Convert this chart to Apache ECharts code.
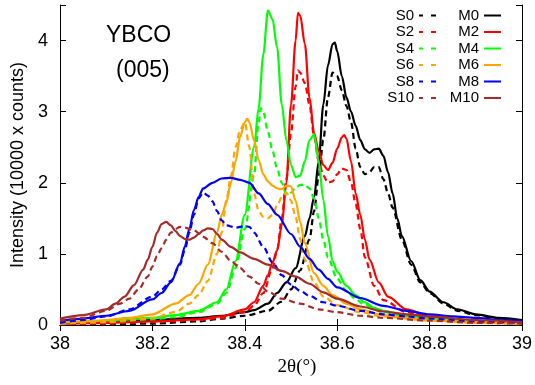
<!DOCTYPE html>
<html>
<head>
<meta charset="utf-8">
<script src="https://cdn.jsdelivr.net/npm/echarts@6/dist/echarts.min.js"></script>
<style>
  html, body { margin: 0; padding: 0; background: #fff; }
  #main { width: 535px; height: 385px; }
</style>
</head>
<body>
<div id="main"></div>
<script>
// x ticks / y ticks
const xTicks = [38, 38.2, 38.4, 38.6, 38.8, 39];
const yTicks = [0, 1, 2, 3, 4];

// [2theta, intensity]
const S0 = [[38.0,0.0],[38.1,0.01],[38.2,0.02],[38.3,0.05],[38.35,0.09],[38.4,0.13],[38.45,0.2],[38.48,0.33],[38.5,0.5],[38.52,0.77],[38.54,1.2],[38.55,1.6],[38.56,2.1],[38.57,2.6],[38.58,3.2],[38.59,3.55],[38.6,3.5],[38.61,3.3],[38.62,3.08],[38.63,2.85],[38.64,2.48],[38.65,2.22],[38.66,2.12],[38.67,2.15],[38.68,2.22],[38.69,2.22],[38.7,2.05],[38.71,1.85],[38.72,1.65],[38.74,1.2],[38.76,0.85],[38.78,0.6],[38.8,0.45],[38.83,0.3],[38.86,0.2],[38.9,0.14],[38.95,0.08],[39.0,0.05]];
const M0 = [[38.0,0.02],[38.1,0.04],[38.2,0.07],[38.3,0.1],[38.35,0.13],[38.4,0.18],[38.42,0.21],[38.45,0.3],[38.47,0.45],[38.49,0.6],[38.51,0.8],[38.53,1.25],[38.54,1.5],[38.55,1.8],[38.56,2.3],[38.57,3.1],[38.58,3.65],[38.59,3.95],[38.595,3.97],[38.6,3.85],[38.61,3.5],[38.62,3.2],[38.63,3.0],[38.64,2.8],[38.65,2.6],[38.66,2.47],[38.67,2.42],[38.68,2.47],[38.69,2.48],[38.7,2.38],[38.71,2.15],[38.72,1.85],[38.73,1.5],[38.74,1.25],[38.76,0.9],[38.78,0.63],[38.8,0.47],[38.83,0.32],[38.86,0.22],[38.9,0.15],[38.95,0.1],[39.0,0.07]];
const S2 = [[38.0,0.01],[38.1,0.02],[38.2,0.04],[38.3,0.07],[38.35,0.1],[38.4,0.18],[38.42,0.27],[38.44,0.45],[38.46,0.8],[38.47,1.05],[38.48,1.5],[38.49,2.05],[38.5,2.7],[38.51,3.35],[38.515,3.58],[38.52,3.55],[38.53,3.4],[38.54,3.1],[38.55,2.65],[38.56,2.3],[38.57,2.1],[38.58,2.0],[38.59,2.02],[38.6,2.12],[38.61,2.2],[38.62,2.18],[38.63,2.0],[38.64,1.7],[38.65,1.35],[38.66,0.95],[38.68,0.55],[38.7,0.35],[38.75,0.18],[38.8,0.1],[38.9,0.04],[39.0,0.02]];
const M2 = [[38.0,0.02],[38.1,0.03],[38.2,0.05],[38.3,0.08],[38.35,0.12],[38.4,0.22],[38.42,0.32],[38.44,0.55],[38.45,0.7],[38.46,0.88],[38.47,1.05],[38.48,1.4],[38.49,2.0],[38.5,3.1],[38.51,4.0],[38.515,4.39],[38.52,4.35],[38.53,3.95],[38.54,3.2],[38.55,2.7],[38.56,2.45],[38.57,2.25],[38.58,2.18],[38.59,2.28],[38.6,2.48],[38.61,2.64],[38.615,2.67],[38.62,2.62],[38.63,2.3],[38.64,1.85],[38.65,1.55],[38.66,1.2],[38.67,0.92],[38.69,0.6],[38.71,0.4],[38.75,0.22],[38.8,0.12],[38.9,0.05],[39.0,0.03]];
const S4 = [[38.0,0.02],[38.1,0.04],[38.2,0.08],[38.25,0.11],[38.3,0.18],[38.34,0.3],[38.36,0.45],[38.38,0.8],[38.4,1.35],[38.42,2.1],[38.43,2.85],[38.435,3.05],[38.44,3.0],[38.45,2.72],[38.46,2.45],[38.47,2.2],[38.48,2.0],[38.49,1.83],[38.5,1.86],[38.51,1.93],[38.52,1.97],[38.53,1.97],[38.54,1.92],[38.55,1.78],[38.56,1.5],[38.57,1.2],[38.58,0.95],[38.6,0.65],[38.62,0.48],[38.64,0.36],[38.66,0.28],[38.7,0.18],[38.75,0.12],[38.8,0.08],[38.9,0.04],[39.0,0.02]];
const M4 = [[38.0,0.03],[38.1,0.06],[38.2,0.1],[38.25,0.14],[38.3,0.2],[38.34,0.32],[38.36,0.5],[38.38,0.9],[38.4,1.55],[38.42,2.5],[38.43,3.05],[38.44,3.8],[38.45,4.42],[38.46,4.3],[38.47,3.9],[38.48,3.1],[38.49,2.6],[38.5,2.25],[38.51,2.08],[38.52,2.1],[38.53,2.3],[38.54,2.6],[38.55,2.68],[38.56,2.3],[38.57,1.76],[38.58,1.25],[38.59,0.9],[38.6,0.75],[38.62,0.55],[38.64,0.42],[38.66,0.32],[38.68,0.24],[38.7,0.2],[38.75,0.13],[38.8,0.09],[38.9,0.05],[39.0,0.03]];
const S6 = [[38.0,0.02],[38.1,0.04],[38.15,0.07],[38.2,0.1],[38.25,0.18],[38.28,0.3],[38.3,0.42],[38.32,0.62],[38.34,1.0],[38.35,1.3],[38.36,1.75],[38.37,2.1],[38.38,2.5],[38.39,2.75],[38.4,2.85],[38.41,2.5],[38.42,1.85],[38.43,1.6],[38.44,1.52],[38.45,1.5],[38.46,1.55],[38.47,1.68],[38.48,1.8],[38.49,1.86],[38.5,1.75],[38.51,1.52],[38.52,1.2],[38.53,0.92],[38.55,0.6],[38.57,0.4],[38.6,0.28],[38.65,0.18],[38.7,0.12],[38.8,0.06],[38.9,0.03],[39.0,0.01]];
const M6 = [[38.0,0.04],[38.05,0.05],[38.1,0.07],[38.15,0.1],[38.2,0.15],[38.25,0.3],[38.28,0.42],[38.3,0.58],[38.32,0.85],[38.34,1.3],[38.35,1.55],[38.36,1.72],[38.37,2.0],[38.38,2.3],[38.39,2.65],[38.4,2.85],[38.405,2.9],[38.41,2.85],[38.42,2.6],[38.43,2.32],[38.44,2.12],[38.45,2.02],[38.46,1.96],[38.47,1.92],[38.48,1.91],[38.49,1.96],[38.5,1.95],[38.51,1.75],[38.52,1.45],[38.53,1.15],[38.55,0.73],[38.57,0.55],[38.59,0.42],[38.62,0.3],[38.65,0.22],[38.7,0.14],[38.75,0.1],[38.8,0.07],[38.9,0.04],[39.0,0.02]];
const S8 = [[38.0,0.03],[38.05,0.07],[38.1,0.12],[38.15,0.22],[38.2,0.4],[38.22,0.5],[38.24,0.62],[38.26,0.85],[38.27,1.05],[38.28,1.3],[38.29,1.55],[38.3,1.78],[38.31,1.86],[38.32,1.82],[38.33,1.74],[38.34,1.6],[38.35,1.47],[38.36,1.4],[38.38,1.37],[38.4,1.39],[38.41,1.38],[38.42,1.3],[38.44,1.1],[38.46,0.88],[38.48,0.7],[38.5,0.57],[38.52,0.48],[38.54,0.41],[38.57,0.32],[38.6,0.27],[38.65,0.2],[38.7,0.15],[38.75,0.12],[38.8,0.09],[38.9,0.05],[39.0,0.03]];
const M8 = [[38.0,0.06],[38.05,0.09],[38.1,0.13],[38.15,0.2],[38.2,0.36],[38.22,0.45],[38.24,0.6],[38.26,0.87],[38.27,1.1],[38.28,1.35],[38.29,1.62],[38.3,1.8],[38.31,1.92],[38.33,2.0],[38.35,2.06],[38.37,2.07],[38.39,2.04],[38.41,2.0],[38.43,1.85],[38.45,1.7],[38.47,1.55],[38.5,1.28],[38.52,1.1],[38.54,0.93],[38.56,0.78],[38.58,0.65],[38.6,0.53],[38.65,0.38],[38.7,0.27],[38.75,0.2],[38.8,0.15],[38.85,0.12],[38.9,0.1],[38.95,0.07],[39.0,0.06]];
const S10 = [[38.0,0.06],[38.05,0.1],[38.1,0.2],[38.13,0.3],[38.15,0.37],[38.17,0.5],[38.19,0.68],[38.2,0.82],[38.21,0.97],[38.22,1.08],[38.23,1.2],[38.24,1.3],[38.25,1.35],[38.26,1.38],[38.27,1.37],[38.29,1.33],[38.31,1.24],[38.33,1.15],[38.35,1.03],[38.37,0.9],[38.39,0.8],[38.41,0.68],[38.43,0.58],[38.45,0.47],[38.48,0.37],[38.52,0.3],[38.56,0.22],[38.6,0.18],[38.65,0.13],[38.7,0.1],[38.8,0.06],[38.9,0.03],[39.0,0.02]];
const M10 = [[38.0,0.09],[38.05,0.14],[38.1,0.22],[38.12,0.3],[38.14,0.4],[38.16,0.56],[38.18,0.78],[38.19,0.92],[38.2,1.1],[38.21,1.3],[38.22,1.42],[38.23,1.45],[38.24,1.4],[38.25,1.32],[38.26,1.25],[38.27,1.21],[38.28,1.2],[38.29,1.23],[38.3,1.28],[38.31,1.33],[38.32,1.36],[38.33,1.35],[38.34,1.28],[38.35,1.2],[38.37,1.1],[38.39,1.02],[38.42,0.93],[38.45,0.85],[38.48,0.76],[38.51,0.68],[38.54,0.58],[38.57,0.46],[38.6,0.37],[38.65,0.26],[38.7,0.19],[38.75,0.15],[38.8,0.12],[38.9,0.07],[39.0,0.04]];

const sNames = ['S0', 'S2', 'S4', 'S6', 'S8', 'S10'];
const mNames = ['M0', 'M2', 'M4', 'M6', 'M8', 'M10'];
const sData = [S0, S2, S4, S6, S8, S10];
const mData = [M0, M2, M4, M6, M8, M10];
const colors = ['#000000', '#ff0000', '#00ff00', '#ffa500', '#0000ff', '#a52a2a'];

const FONT = 'Liberation Sans, Arial, sans-serif';
// legend keys: two short dashes / one solid bar
const DASH_ICON = 'path://M0,0h4v2h-4z M12,0h5v2h-5z';
const SOLID_ICON = 'path://M0,0h17v2h-17z';

const chart = echarts.init(document.getElementById('main'));

const series = [];
sNames.forEach((n, i) => {
  series.push({
    name: n,
    type: 'line',
    data: sData[i],
    symbol: 'none',
    smooth: 0.3,
    smoothMonotone: 'x',
    lineStyle: { color: colors[i], width: 2.2, type: [6, 4] },
    itemStyle: { color: colors[i] },
  });
  series.push({
    name: mNames[i],
    type: 'line',
    data: mData[i],
    symbol: 'none',
    smooth: 0.3,
    smoothMonotone: 'x',
    lineStyle: { color: colors[i], width: 2.2 },
    itemStyle: { color: colors[i] },
  });
});

const tickAxis = {
  axisLine: { show: true, lineStyle: { color: '#000', width: 1 } },
  axisTick: { show: true, inside: true, length: 6, lineStyle: { color: '#000' } },
  splitLine: { show: false },
};

const legendBase = {
  orient: 'vertical',
  top: 8,
  align: 'right',
  itemWidth: 17,
  itemHeight: 2,
  itemGap: 1.5,
  padding: 0,
  selectedMode: false,
  textStyle: { fontSize: 15, fontFamily: FONT, color: '#000' },
};

const option = {
  animation: false,
  backgroundColor: '#fff',
  grid: { left: 60, right: 13, top: 5, bottom: 60 },
  legend: [
    Object.assign({}, legendBase, { data: sNames.map((n) => ({ name: n, icon: DASH_ICON })), right: 99 }),
    Object.assign({}, legendBase, { data: mNames.map((n) => ({ name: n, icon: SOLID_ICON })), right: 34 }),
  ],
  graphic: [
    { type: 'text', left: 106, top: 24, style: { text: 'YBCO', font: '23px ' + FONT, fill: '#000' } },
    { type: 'text', left: 116, top: 59, style: { text: '(005)', font: '23px ' + FONT, fill: '#000' } },
  ],
  xAxis: [
    Object.assign({}, tickAxis, {
      type: 'value',
      min: xTicks[0],
      max: xTicks[xTicks.length - 1],
      interval: 0.2,
      name: '2θ(°)',
      nameLocation: 'middle',
      nameGap: 30,
      nameTextStyle: { fontSize: 19, fontFamily: 'Liberation Serif, DejaVu Serif, serif', color: '#000', padding: [0, 0, 0, 12] },
      axisLabel: { fontSize: 18, fontFamily: FONT, color: '#000', margin: 10 },
    }),
    Object.assign({}, tickAxis, {
      type: 'value',
      position: 'top',
      min: xTicks[0],
      max: xTicks[xTicks.length - 1],
      interval: 0.2,
      axisLabel: { show: false },
    }),
  ],
  yAxis: [
    Object.assign({}, tickAxis, {
      type: 'value',
      min: yTicks[0],
      max: 4.5,
      interval: 1,
      name: 'Intensity (10000 x counts)',
      nameLocation: 'middle',
      nameGap: 31,
      nameTextStyle: { fontSize: 18, fontFamily: FONT, color: '#000' },
      axisLabel: {
        fontSize: 18, fontFamily: FONT, color: '#000', margin: 12,
        formatter: (v) => (yTicks.indexOf(v) >= 0 ? String(v) : ''),
      },
    }),
    Object.assign({}, tickAxis, {
      type: 'value',
      position: 'right',
      min: yTicks[0],
      max: 4.5,
      interval: 1,
      axisLabel: { show: false },
    }),
  ],
  series: series,
};

chart.setOption(option);
</script>
</body>
</html>
